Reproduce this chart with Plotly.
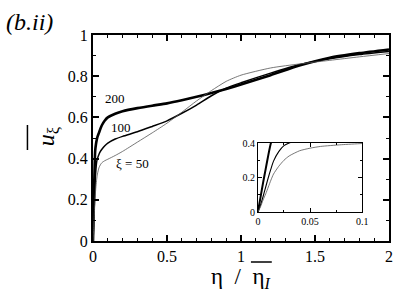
import plotly.graph_objects as go

# ---- data ----
eta = [0, 0.0025, 0.005, 0.0075, 0.01, 0.0125, 0.015, 0.02, 0.025, 0.03, 0.04,
       0.05, 0.06, 0.08, 0.1, 0.15, 0.2, 0.3, 0.4, 0.5, 0.6, 0.7, 0.8, 0.9,
       1.0, 1.2, 1.4, 1.6, 1.8, 2.0]
u_xi200 = [0, 0.085, 0.17, 0.25, 0.33, 0.40, 0.44, 0.47, 0.49, 0.505, 0.525,
           0.545, 0.562, 0.585, 0.60, 0.618, 0.63, 0.645, 0.657, 0.668, 0.683,
           0.70, 0.718, 0.738, 0.76, 0.805, 0.853, 0.89, 0.912, 0.93]
u_xi100 = [0, 0.04, 0.09, 0.145, 0.20, 0.25, 0.295, 0.35, 0.385, 0.40, 0.42,
           0.435, 0.445, 0.462, 0.475, 0.495, 0.508, 0.53, 0.556, 0.583, 0.62,
           0.66, 0.705, 0.742, 0.768, 0.815, 0.857, 0.885, 0.905, 0.92]
u_xi50 = [0, 0.03, 0.07, 0.105, 0.145, 0.185, 0.22, 0.265, 0.30, 0.325, 0.355,
          0.37, 0.38, 0.39, 0.397, 0.415, 0.435, 0.48, 0.525, 0.572, 0.625,
          0.68, 0.73, 0.775, 0.805, 0.84, 0.86, 0.877, 0.894, 0.91]

x_ticks = [0, 0.5, 1, 1.5, 2]
x_ticktext = ["0", "0.5", "1", "1.5", "2"]
y_ticks = [0, 0.2, 0.4, 0.6, 0.8, 1]
y_ticktext = ["0", "0.2", "0.4", "0.6", "0.8", "1"]
xi_ticks = [0, 0.05, 0.1]
xi_ticktext = ["0", "0.05", "0.1"]
yi_ticks = [0, 0.2, 0.4]
yi_ticktext = ["0", "0.2", "0.4"]

# ---- layout geometry ----
W, H = 407, 291
L, R, T, B = 93, 16, 35, 50
PW, PH = W - L - R, H - T - B


def px(x):
    return (x - L) / PW


def py(y):
    return (H - B - y) / PH


FONT = "Liberation Serif"

fig = go.Figure()
styles = [(u_xi200, 2.6, "black", 2.0), (u_xi100, 1.5, "black", 1.1),
          (u_xi50, 0.8, "#555555", 0.8)]
for vals, w, c, wi in styles:
    fig.add_trace(go.Scatter(x=eta, y=vals, mode="lines",
                             line=dict(color=c, width=w, shape="spline", smoothing=0.6),
                             xaxis="x", yaxis="y", showlegend=False))
    fig.add_trace(go.Scatter(x=eta, y=vals, mode="lines",
                             line=dict(color=c, width=wi, shape="spline", smoothing=0.6),
                             xaxis="x2", yaxis="y2", showlegend=False))

axis_common = dict(showline=True, linecolor="black", mirror="ticks",
                   ticks="inside", tickcolor="black", showgrid=False,
                   zeroline=False)

fig.update_layout(
    width=W, height=H,
    margin=dict(l=L, r=R, t=T, b=B),
    paper_bgcolor="white", plot_bgcolor="white",
    font=dict(family=FONT, color="black"),
    xaxis=dict(range=[0, 2], tickvals=x_ticks, ticktext=x_ticktext,
               linewidth=2, ticklen=6, tickwidth=1.5,
               tickfont=dict(family=FONT, size=16, color="black"),
               minor=dict(ticks="inside", dtick=0.1, ticklen=3, tickcolor="black", tickwidth=1),
               domain=[0, 1], **axis_common),
    yaxis=dict(range=[0, 1], tickvals=y_ticks, ticktext=y_ticktext,
               linewidth=2, ticklen=6, tickwidth=1.5,
               tickfont=dict(family=FONT, size=16, color="black"),
               minor=dict(ticks="inside", dtick=0.1, ticklen=3, tickcolor="black", tickwidth=1),
               domain=[0, 1], **axis_common),
    xaxis2=dict(range=[0, 0.1], tickvals=xi_ticks, ticktext=xi_ticktext,
                linewidth=1, ticklen=4, tickwidth=1,
                tickfont=dict(family=FONT, size=10, color="black"),
                minor=dict(ticks="inside", dtick=0.025, ticklen=2, tickcolor="black"),
                domain=[px(259), px(364)], anchor="y2", **axis_common),
    yaxis2=dict(range=[0, 0.4], tickvals=yi_ticks, ticktext=yi_ticktext,
                linewidth=1, ticklen=4, tickwidth=1,
                tickfont=dict(family=FONT, size=10, color="black"),
                minor=dict(ticks="inside", dtick=0.1, ticklen=2, tickcolor="black"),
                domain=[py(212), py(143)], anchor="x2", **axis_common),
)


def note(text, x, y, size, **kw):
    d = dict(text=text, x=px(x), y=py(y), xref="paper", yref="paper",
             xanchor="center", yanchor="middle", showarrow=False,
             font=dict(family=FONT, size=size, color="black"))
    d.update(kw)
    return d


ann = [
    note("<i>(b.ii)</i>", 3, 7, 24, xanchor="left", yanchor="top"),
    note("200", 115, 98, 13),
    note("100", 121, 127, 13),
    note("ξ = 50", 133, 163, 13),
    note("<i>u</i><sub>ξ</sub>", 48, 136, 24, textangle=-90),
    note("η  /  η<sub><i>I</i></sub>", 241, 278, 23),
]
fig.update_layout(annotations=ann)

fig.update_layout(shapes=[
    dict(type="line", xref="paper", yref="paper", x0=px(27), x1=px(27),
         y0=py(125), y1=py(150), line=dict(color="black", width=1.5)),
    dict(type="line", xref="paper", yref="paper", x0=px(252), x1=px(273),
         y0=py(262), y1=py(262), line=dict(color="black", width=1.5)),
])

fig.write_html("out.html", config={"displayModeBar": False},
               post_script="document.body.style.margin='0';document.body.style.padding='0';")
